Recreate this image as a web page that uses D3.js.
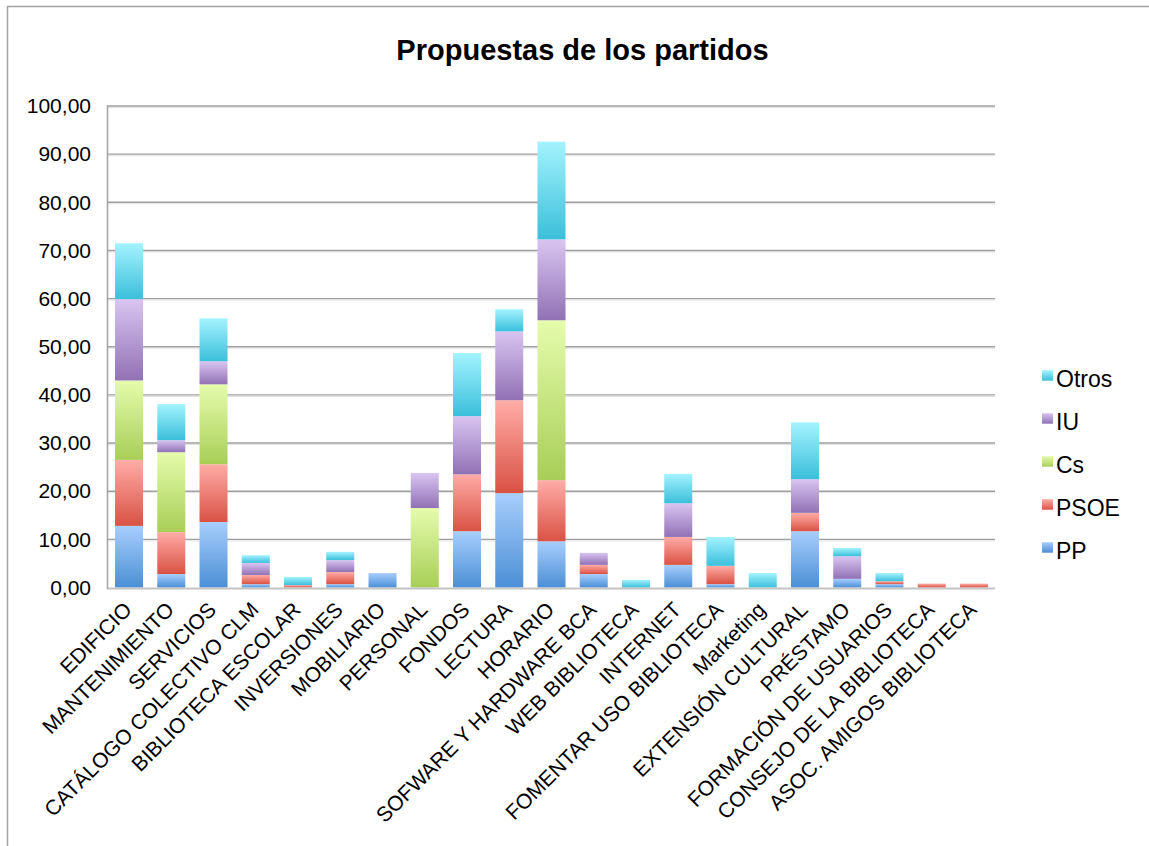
<!DOCTYPE html>
<html>
<head>
<meta charset="utf-8">
<script src="https://cdn.jsdelivr.net/npm/d3@7"></script>
<style>
  html, body { margin: 0; padding: 0; background: #fff; }
  svg { display: block; font-family: "Liberation Sans", Arial, Helvetica, sans-serif; }
</style>
</head>
<body>
<svg id="chart" width="1149" height="846"></svg>
<script>
const categories = ["EDIFICIO", "MANTENIMIENTO", "SERVICIOS", "CATÁLOGO COLECTIVO CLM", "BIBLIOTECA ESCOLAR",
  "INVERSIONES", "MOBILIARIO", "PERSONAL", "FONDOS", "LECTURA", "HORARIO", "SOFWARE Y HARDWARE BCA",
  "WEB BIBLIOTECA", "INTERNET", "FOMENTAR USO BIBLIOTECA", "Marketing", "EXTENSIÓN CULTURAL", "PRÉSTAMO",
  "FORMACIÓN DE USUARIOS", "CONSEJO DE LA BIBLIOTECA", "ASOC. AMIGOS BIBLIOTECA"];
const seriesNames = ["PP", "PSOE", "Cs", "IU", "Otros"];
const PP    = [12.8, 2.8, 13.6, 0.7, 0, 0.7, 3.0, 0, 11.7, 19.6, 9.6, 2.8, 0, 4.7, 0.7, 0, 11.7, 1.8, 0.7, 0, 0];
const PSOE  = [13.7, 8.7, 12.0, 1.9, 0.5, 2.5, 0, 0, 11.8, 19.3, 12.7, 1.9, 0, 5.8, 3.8, 0, 3.8, 0, 0.6, 0.8, 0.8];
const Cs    = [16.5, 16.6, 16.6, 0, 0, 0, 0, 16.5, 0, 0, 33.2, 0, 0, 0, 0, 0, 0, 0, 0, 0, 0];
const IU    = [16.9, 2.5, 4.8, 2.5, 0, 2.5, 0, 7.3, 12.1, 14.3, 16.8, 2.5, 0, 7.0, 0, 0, 7.0, 4.7, 0, 0, 0];
const Otros = [11.6, 7.5, 8.9, 1.6, 1.7, 1.7, 0, 0, 13.1, 4.6, 20.3, 0, 1.6, 6.1, 6.0, 3.0, 11.8, 1.7, 1.7, 0, 0];
const yTicks = [0, 10, 20, 30, 40, 50, 60, 70, 80, 90, 100];
const title = "Propuestas de los partidos";

const seriesValues = { PP, PSOE, Cs, IU, Otros };
const gradStops = {
  PP:    ["#a8cefd", "#4b8fd5"],
  PSOE:  ["#ffaca7", "#d95244"],
  Cs:    ["#e5fcac", "#a8ce57"],
  IU:    ["#d9c5f1", "#9171b5"],
  Otros: ["#a4f3fe", "#3bbfdb"]
};

const svg = d3.select("#chart");
const defs = svg.append("defs");
seriesNames.forEach(s => {
  const g = defs.append("linearGradient").attr("id", "grad-" + s)
    .attr("x1", 0).attr("y1", 0).attr("x2", 0).attr("y2", 1);
  g.append("stop").attr("offset", "0%").attr("stop-color", gradStops[s][0]);
  g.append("stop").attr("offset", "100%").attr("stop-color", gradStops[s][1]);
});

// outer frame
svg.append("path").attr("d", "M7.5,846 V6.5 H1149").attr("fill", "none")
  .attr("stroke", "#a3a3a3").attr("stroke-width", 1.5);

// title
svg.append("text").attr("x", 582.5).attr("y", 60).attr("text-anchor", "middle")
  .attr("font-size", 29).attr("font-weight", "bold").attr("fill", "#000").text(title);

const x = d3.scaleBand().domain(categories).range([107, 996]).paddingInner(0.337).paddingOuter(0.19);
const y = d3.scaleLinear().domain([0, 100]).range([587.5, 106]);

// gridlines
const grid = svg.append("g");
yTicks.filter(t => t > 0).forEach(t => {
  grid.append("line").attr("x1", 107).attr("x2", 995).attr("y1", y(t) + 1.5).attr("y2", y(t) + 1.5)
    .attr("stroke", "#e2e2e2").attr("stroke-width", 1);
  grid.append("line").attr("x1", 107).attr("x2", 995).attr("y1", y(t)).attr("y2", y(t))
    .attr("stroke", "#a0a0a0").attr("stroke-width", 1.4);
});

// stacked data
const rows = categories.map((c, i) => {
  const r = { cat: c };
  seriesNames.forEach(s => r[s] = seriesValues[s][i]);
  return r;
});
const stack = d3.stack().keys(seriesNames)(rows);

const barsG = svg.append("g");
stack.forEach(layer => {
  barsG.append("g").selectAll("rect").data(layer.filter(d => d[1] - d[0] > 0)).join("rect")
    .attr("x", d => x(d.data.cat))
    .attr("width", x.bandwidth())
    .attr("y", d => y(d[1]))
    .attr("height", d => y(d[0]) - y(d[1]))
    .attr("fill", "url(#grad-" + layer.key + ")");
});

// axes lines
svg.append("line").attr("x1", 107).attr("x2", 995).attr("y1", 588.5).attr("y2", 588.5)
  .attr("stroke", "#c4c4c4").attr("stroke-width", 2);
svg.append("line").attr("x1", 107.5).attr("x2", 107.5).attr("y1", 105.5).attr("y2", 589)
  .attr("stroke", "#a6a6a6").attr("stroke-width", 1.6);

// y axis labels
const yAxis = d3.axisLeft(y).tickValues(yTicks).tickSize(0).tickPadding(16)
  .tickFormat(d => d3.format(".2f")(d).replace(".", ","));
const yg = svg.append("g").attr("transform", "translate(107,0)").call(yAxis);
yg.select(".domain").remove();
yg.selectAll("text").attr("font-size", 21).attr("fill", "#000")
  .attr("font-family", "'Liberation Sans', Arial, Helvetica, sans-serif");

// x labels
const xg = svg.append("g");
categories.forEach(c => {
  const cx = x(c) + x.bandwidth() / 2;
  xg.append("text")
    .attr("transform", `translate(${cx + 4},611) rotate(-45)`)
    .attr("text-anchor", "end").attr("font-size", 21).attr("fill", "#000").text(c);
});

// legend
const legendOrder = ["Otros", "IU", "Cs", "PSOE", "PP"];
const lg = svg.append("g");
legendOrder.forEach((s, i) => {
  const by = 386.7 + i * 43;
  lg.append("rect").attr("x", 1042).attr("y", by - 16.5).attr("width", 11).attr("height", 10.5)
    .attr("fill", "url(#grad-" + s + ")");
  lg.append("text").attr("x", 1056).attr("y", by).attr("font-size", 23).attr("fill", "#000").text(s);
});
</script>
</body>
</html>
